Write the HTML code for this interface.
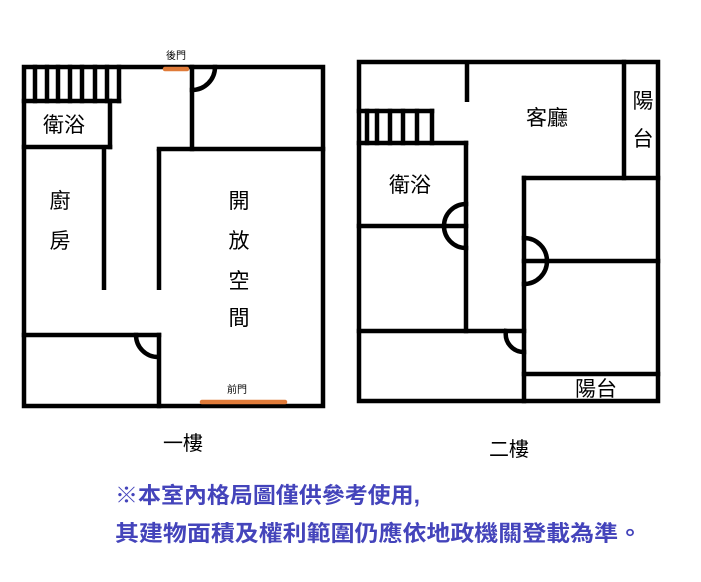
<!DOCTYPE html>
<html><head><meta charset="utf-8"><style>
html,body{margin:0;padding:0;background:#fff;}
svg{display:block;}
text{font-family:"Liberation Sans","Noto Sans CJK TC",sans-serif;}
</style></head><body>
<svg width="701" height="582" viewBox="0 0 701 582" xmlns="http://www.w3.org/2000/svg">
<g stroke="#000" stroke-width="4.5" fill="none" stroke-linecap="square">
<!-- Left plan -->
<rect x="24" y="67" width="299" height="339"/>
<line x1="24" y1="101" x2="119" y2="101"/>
<line x1="119" y1="67" x2="119" y2="101"/>
<line x1="35" y1="67" x2="35" y2="101"/><line x1="47" y1="67" x2="47" y2="101"/>
<line x1="58" y1="67" x2="58" y2="101"/><line x1="70" y1="67" x2="70" y2="101"/>
<line x1="82" y1="67" x2="82" y2="101"/><line x1="95" y1="67" x2="95" y2="101"/>
<line x1="107" y1="67" x2="107" y2="101"/>
<line x1="110" y1="101" x2="110" y2="147"/>
<line x1="24" y1="147" x2="110" y2="147"/>
<line x1="104" y1="147" x2="104" y2="290" stroke-linecap="butt"/>
<line x1="159" y1="149" x2="159" y2="290" stroke-linecap="butt"/>
<line x1="159" y1="149" x2="323" y2="149"/>
<line x1="192" y1="67" x2="192" y2="149"/>
<path d="M192 90 A23 23 0 0 0 215 67"/>
<line x1="24" y1="335" x2="159" y2="335"/>
<line x1="159" y1="335" x2="159" y2="406"/>
<path d="M136 335 A22 22 0 0 0 158 357"/>
<!-- Right plan -->
<rect x="359" y="62" width="299" height="339"/>
<line x1="467" y1="62" x2="467" y2="102" stroke-linecap="butt"/>
<line x1="359" y1="111" x2="432" y2="111"/>
<line x1="432" y1="111" x2="432" y2="143"/>
<line x1="367" y1="111" x2="367" y2="143"/><line x1="377" y1="111" x2="377" y2="143"/>
<line x1="390" y1="111" x2="390" y2="143"/><line x1="403" y1="111" x2="403" y2="143"/>
<line x1="417" y1="111" x2="417" y2="143"/>
<line x1="359" y1="143" x2="466" y2="143"/>
<line x1="466" y1="143" x2="466" y2="331"/>
<line x1="359" y1="226" x2="466" y2="226"/>
<path d="M466 204 A22 22 0 0 0 466 248"/>
<line x1="359" y1="331" x2="524" y2="331"/>
<line x1="524" y1="178" x2="524" y2="401"/>
<line x1="524" y1="178" x2="658" y2="178"/>
<line x1="624" y1="62" x2="624" y2="178"/>
<line x1="524" y1="261" x2="658" y2="261"/>
<path d="M524 238 A23 23 0 0 1 524 284"/>
<path d="M506 331 A18 18 0 0 0 524 352"/>
<line x1="524" y1="374" x2="658" y2="374"/>
</g>
<g stroke="#e07b39" stroke-width="4.5" stroke-linecap="round">
<line x1="165" y1="69" x2="187" y2="69"/>
<line x1="202" y1="402" x2="285" y2="402"/>
</g>
<g fill="#000" text-anchor="middle">
<text x="176" y="59" font-size="10">後門</text>
<text x="237" y="393" font-size="10">前門</text>
<text x="64" y="132" font-size="21">衛浴</text>
<text x="60" y="208" font-size="21">廚</text>
<text x="60" y="248" font-size="21">房</text>
<text x="239" y="208" font-size="21">開</text>
<text x="239" y="248" font-size="21">放</text>
<text x="239" y="288" font-size="21">空</text>
<text x="239" y="325" font-size="21">間</text>
<text x="547" y="125" font-size="21">客廳</text>
<text x="643" y="108" font-size="21">陽</text>
<text x="643" y="146" font-size="21">台</text>
<text x="410" y="192" font-size="21">衛浴</text>
<text x="596" y="396" font-size="21">陽台</text>
<text x="183" y="450" font-size="20">一樓</text>
<text x="509" y="456" font-size="20">二樓</text>
</g>
<g fill="#4444bb" font-size="22" font-weight="bold">
<text x="115" y="503" textLength="305" lengthAdjust="spacingAndGlyphs">※本室內格局圖僅供參考使用,</text>
<text x="115" y="541" textLength="527" lengthAdjust="spacingAndGlyphs">其建物面積及權利範圍仍應依地政機關登載為準。</text>
</g>
</svg>
</body></html>
